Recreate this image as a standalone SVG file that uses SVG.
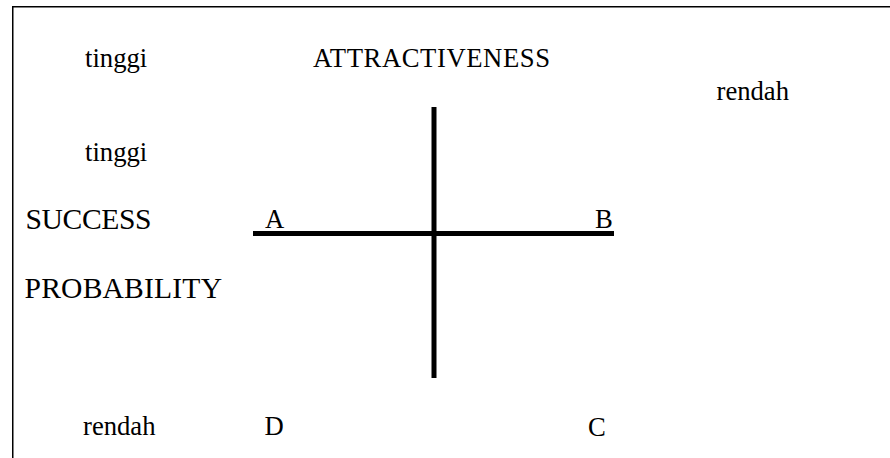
<svg xmlns="http://www.w3.org/2000/svg" width="890" height="458" viewBox="0 0 890 458">
<style>
text{font-family:"Liberation Serif","Times New Roman",serif;fill:#000}
.s{font-size:26.67px}
.l{font-size:29.6px}
.ax{stroke:#000;stroke-width:5;fill:none}
</style>
<rect width="890" height="458" fill="#fff"/>
<path d="M12.75,460 V6.75 H892" stroke="#000" stroke-width="1.5" fill="none"/>
<g id="connectors">
<line class="ax" x1="253" y1="233.5" x2="614" y2="233.5"/>
<line class="ax" x1="434" y1="107" x2="434" y2="378"/>
</g>
<g id="header">
<text class="s" x="85" y="67">tinggi</text>
<text class="s" x="313" y="67" textLength="237" lengthAdjust="spacing">ATTRACTIVENESS</text>
<text class="s" x="716.5" y="100">rendah</text>
</g>
<g id="ylabel">
<text class="s" x="85" y="161">tinggi</text>
<text class="l" x="25.5" y="228.5" textLength="126" lengthAdjust="spacing">SUCCESS</text>
<text class="l" x="24.5" y="297.5" textLength="197.5" lengthAdjust="spacing">PROBABILITY</text>
<text class="s" x="83" y="435">rendah</text>
</g>
<g id="quadA"><text class="s" x="265" y="228">A</text></g>
<g id="quadB"><text class="s" x="595" y="228">B</text></g>
<g id="quadD"><text class="s" x="264.5" y="435">D</text></g>
<g id="quadC"><text class="s" x="588" y="436">C</text></g>
</svg>
